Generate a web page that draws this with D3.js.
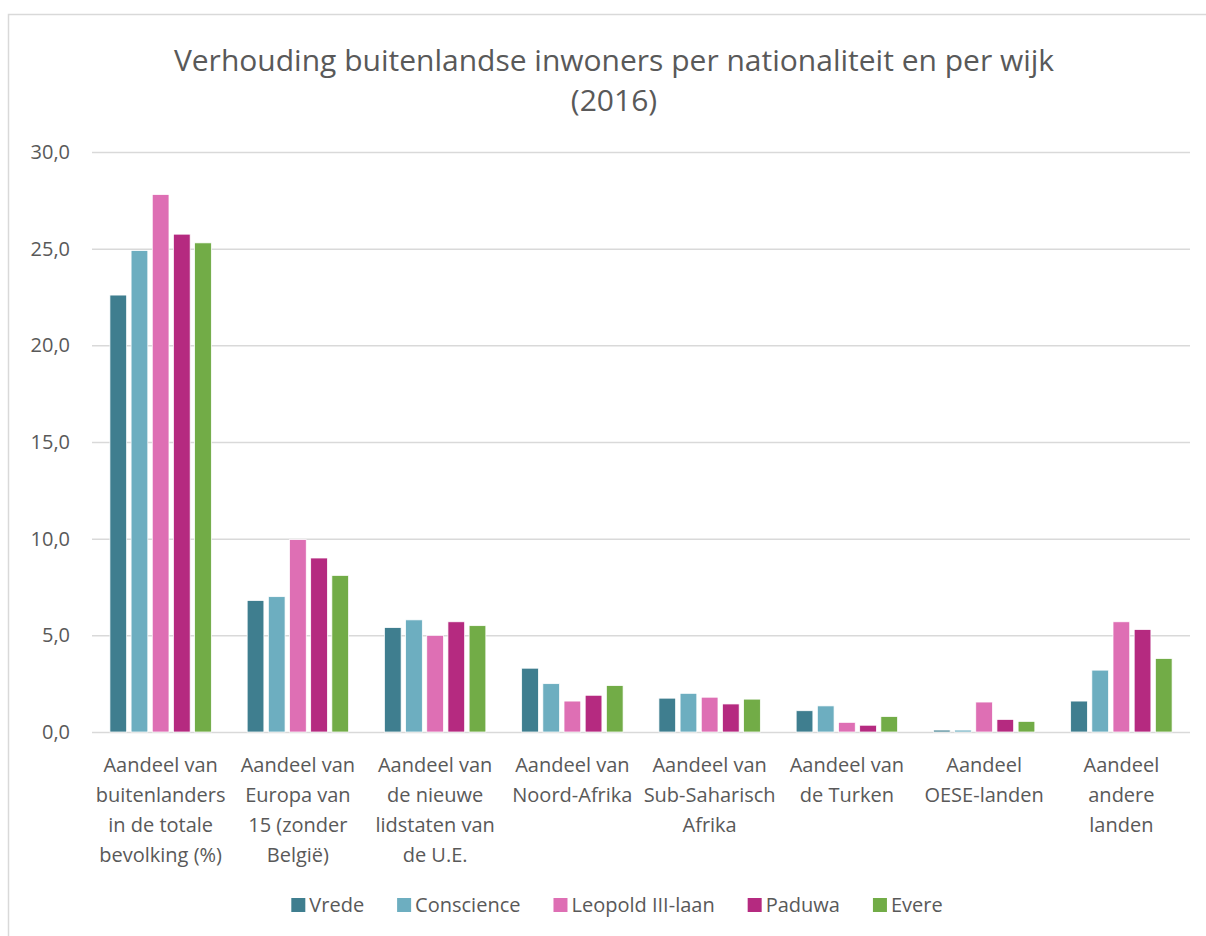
<!DOCTYPE html>
<html>
<head>
<meta charset="utf-8">
<script src="https://cdn.jsdelivr.net/npm/d3@7"></script>
<style>
  body { margin: 0; background: #fff; }
  text { font-family: "Open Sans", sans-serif; fill: #595959; }
</style>
</head>
<body>
<div id="chart"></div>
<script>
// Data
const categories = ["buitenlanders", "europa15", "nieuweEU", "noordAfrika", "subSahara", "turken", "oese", "andere"];
const categoryLabels = [
  ["Aandeel van", "buitenlanders", "in de totale", "bevolking (%)"],
  ["Aandeel van", "Europa van", "15 (zonder", "België)"],
  ["Aandeel van", "de nieuwe", "lidstaten van", "de U.E."],
  ["Aandeel van", "Noord-Afrika"],
  ["Aandeel van", "Sub-Saharisch", "Afrika"],
  ["Aandeel van", "de Turken"],
  ["Aandeel", "OESE-landen"],
  ["Aandeel", "andere", "landen"]
];
const seriesNames = ["Vrede", "Conscience", "Leopold III-laan", "Paduwa", "Evere"];
const seriesColors = ["#3f7e8f", "#6daec0", "#de6fb4", "#b52a80", "#72ac47"];

const vrede      = [22.6, 6.8, 5.4, 3.3, 1.75, 1.1, 0.1, 1.6];
const conscience = [24.9, 7.0, 5.8, 2.5, 2.0, 1.35, 0.1, 3.2];
const leopold    = [27.8, 9.95, 5.0, 1.6, 1.8, 0.5, 1.55, 5.7];
const paduwa     = [25.75, 9.0, 5.7, 1.9, 1.45, 0.35, 0.65, 5.3];
const evere      = [25.3, 8.1, 5.5, 2.4, 1.7, 0.8, 0.55, 3.8];
const seriesValues = [vrede, conscience, leopold, paduwa, evere];

const yTicks = [0, 5, 10, 15, 20, 25, 30];
const titleLines = ["Verhouding buitenlandse inwoners per nationaliteit en per wijk", "(2016)"];

// Chart
const width = 1206, height = 936;
const plot = {left: 92, right: 1190, top: 152, bottom: 732};

const svg = d3.select("#chart").append("svg")
    .attr("width", width)
    .attr("height", height);

// chart border
svg.append("rect")
    .attr("x", 8.5).attr("y", 14.5)
    .attr("width", width).attr("height", height)
    .attr("fill", "none")
    .attr("stroke", "#d9d9d9")
    .attr("stroke-width", 1.5);

const x0 = d3.scaleBand()
    .domain(categories)
    .range([plot.left, plot.right])
    .paddingInner(0.261)
    .paddingOuter(0.1305);

const x1 = d3.scaleBand()
    .domain(seriesNames)
    .range([0, x0.bandwidth()])
    .paddingInner(0.21);

const y = d3.scaleLinear()
    .domain([0, 30])
    .range([plot.bottom, plot.top]);

const fmt = d3.formatLocale({decimal: ",", thousands: ".", grouping: [3], currency: ["€", ""]}).format(".1f");

// gridlines + y labels
const yAxis = d3.axisLeft(y)
    .tickValues(yTicks)
    .tickSize(-(plot.right - plot.left))
    .tickPadding(22)
    .tickFormat(fmt);

const gy = svg.append("g")
    .attr("transform", "translate(" + plot.left + ",0)")
    .call(yAxis);
gy.select(".domain").remove();
gy.selectAll(".tick line").attr("stroke", "#d9d9d9").attr("stroke-width", 1.5);
gy.selectAll(".tick text")
    .attr("font-size", 20)
    .style("fill", "#595959");

// bars
const groups = svg.append("g").selectAll("g")
    .data(categories)
    .join("g")
    .attr("transform", d => "translate(" + x0(d) + ",0)");

groups.selectAll("rect")
    .data((d, i) => seriesNames.map((s, j) => ({s: s, j: j, v: seriesValues[j][i]})))
    .join("rect")
    .attr("x", d => x1(d.s))
    .attr("width", x1.bandwidth())
    .attr("y", d => y(d.v))
    .attr("height", d => y(0) - y(d.v))
    .attr("fill", d => seriesColors[d.j])
    .attr("stroke", "#fff")
    .attr("stroke-width", 0.75);

// category labels
const lab = svg.append("g").selectAll("text")
    .data(categories)
    .join("text")
    .attr("text-anchor", "middle")
    .attr("font-size", 20)
    .attr("transform", d => "translate(" + (x0(d) + x0.bandwidth() / 2) + ",772)");

lab.selectAll("tspan")
    .data((d, i) => categoryLabels[i])
    .join("tspan")
    .attr("x", 0)
    .attr("y", (d, i) => i * 30)
    .text(d => d);

// title
svg.append("text")
    .attr("text-anchor", "middle")
    .attr("font-size", 30)
    .selectAll("tspan")
    .data(titleLines)
    .join("tspan")
    .attr("x", 614)
    .attr("y", (d, i) => 71 + i * 40)
    .text(d => d);

// legend
const legend = svg.append("g").attr("transform", "translate(0,905)");
const items = legend.selectAll("g")
    .data(seriesNames)
    .join("g");
items.append("rect")
    .attr("y", -7)
    .attr("width", 14).attr("height", 14)
    .attr("fill", (d, i) => seriesColors[i]);
items.append("text")
    .attr("x", 18)
    .attr("y", 7)
    .attr("font-size", 20)
    .text(d => d);

let pos = 0;
const gap = 33;
const offsets = [];
items.each(function() {
    offsets.push(pos);
    pos += this.getBBox().width + gap;
});
const totalW = pos - gap;
const start = 617 - totalW / 2;
items.attr("transform", (d, i) => "translate(" + (start + offsets[i]) + ",0)");
</script>
</body>
</html>
